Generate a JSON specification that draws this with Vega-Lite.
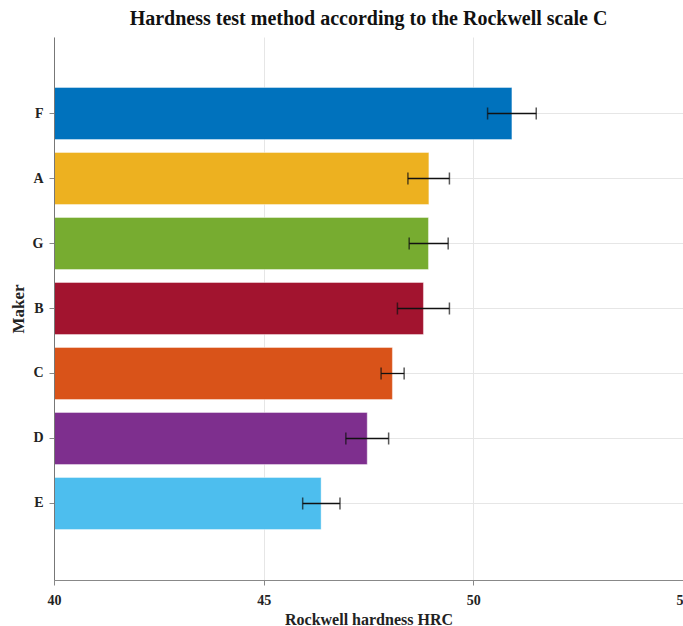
{
  "$schema": "https://vega.github.io/schema/vega-lite/v6.json",
  "autosize": {"type": "none"},
  "padding": {"left": 54, "top": 37, "right": 0, "bottom": 46},
  "width": 629,
  "height": 543,
  "background": "white",
  "title": {
    "text": "Hardness test method according to the Rockwell scale C",
    "font": "Liberation Serif",
    "fontSize": 20,
    "fontWeight": "bold",
    "color": "#111111",
    "anchor": "middle",
    "offset": 8
  },
  "config": {
    "view": {"stroke": null},
    "axis": {
      "labelFont": "Liberation Serif",
      "titleFont": "Liberation Serif",
      "labelFontWeight": "bold",
      "titleFontWeight": "bold",
      "labelColor": "#222222",
      "titleColor": "#222222",
      "domainColor": "#888888",
      "tickColor": "#888888",
      "gridColor": "#e6e6e6",
      "labelFontSize": 14,
      "titleFontSize": 16
    }
  },
  "data": {
    "values": [
      {"maker": "F", "hrc": 50.92, "lo": 50.34, "hi": 51.50},
      {"maker": "A", "hrc": 48.94, "lo": 48.44, "hi": 49.43},
      {"maker": "G", "hrc": 48.93, "lo": 48.47, "hi": 49.40},
      {"maker": "B", "hrc": 48.81, "lo": 48.19, "hi": 49.43},
      {"maker": "C", "hrc": 48.07, "lo": 47.80, "hi": 48.35},
      {"maker": "D", "hrc": 47.47, "lo": 46.96, "hi": 47.98},
      {"maker": "E", "hrc": 46.37, "lo": 45.93, "hi": 46.82}
    ]
  },
  "encoding": {
    "y": {
      "field": "maker",
      "type": "nominal",
      "sort": ["F", "A", "G", "B", "C", "D", "E"],
      "scale": {"paddingInner": 0.2, "paddingOuter": 0.777},
      "axis": {
        "title": "Maker",
        "grid": false,
        "labelPadding": 6,
        "tickSize": 5,
        "titlePadding": 5,
        "titleFontSize": 17,
        "domainColor": "#777777",
        "zindex": 1
      }
    }
  },
  "layer": [
    {
      "mark": {"type": "rule", "color": "#e6e6e6", "strokeWidth": 1},
      "encoding": {
        "x": {"datum": 40, "type": "quantitative"},
        "x2": {"datum": 55}
      }
    },
    {
      "mark": {"type": "bar", "stroke": "white", "strokeOpacity": 0.4, "strokeWidth": 1},
      "encoding": {
        "x": {
          "field": "hrc",
          "type": "quantitative",
          "scale": {"domain": [40, 55], "zero": false, "nice": false},
          "axis": {
            "title": "Rockwell hardness HRC",
            "values": [40, 45, 50, 55],
            "grid": true,
            "labelPadding": 8,
            "tickSize": 5,
            "titlePadding": 4,
            "labelFlush": false,
            "labelBound": false
          }
        },
        "x2": {"datum": 40},
        "color": {
          "field": "maker",
          "type": "nominal",
          "legend": null,
          "scale": {
            "domain": ["F", "A", "G", "B", "C", "D", "E"],
            "range": ["#0072BD", "#EDB120", "#77AC30", "#A2142F", "#D95319", "#7E2F8E", "#4DBEEE"]
          }
        }
      }
    },
    {
      "mark": {"type": "rule", "color": "#111111", "strokeWidth": 1.3},
      "encoding": {
        "x": {"field": "lo", "type": "quantitative"},
        "x2": {"field": "hi"}
      }
    },
    {
      "mark": {"type": "tick", "color": "#111111", "thickness": 1.5, "size": 12, "orient": "vertical"},
      "encoding": {
        "x": {"field": "lo", "type": "quantitative"}
      }
    },
    {
      "mark": {"type": "tick", "color": "#111111", "thickness": 1.5, "size": 12, "orient": "vertical"},
      "encoding": {
        "x": {"field": "hi", "type": "quantitative"}
      }
    }
  ]
}
